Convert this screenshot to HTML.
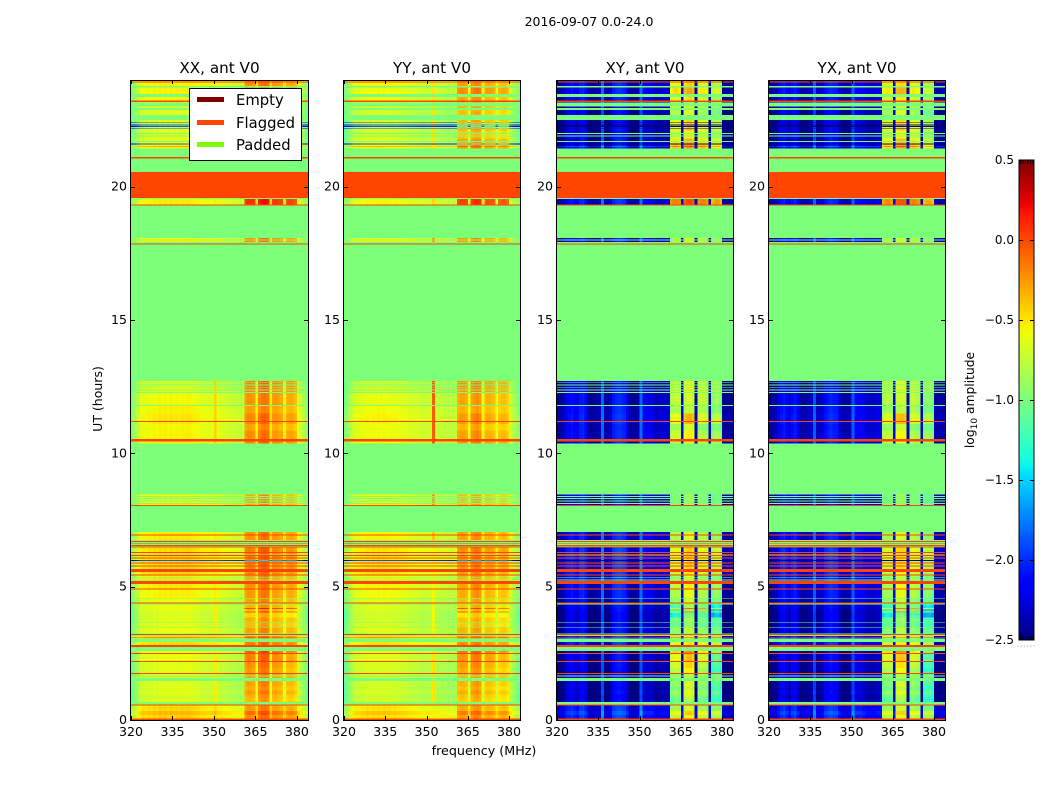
<!DOCTYPE html>
<html lang="en">
<head>
<meta charset="utf-8">
<title>2016-09-07 0.0-24.0</title>
<style>
html,body{margin:0;padding:0;background:#fff;width:1050px;height:800px;overflow:hidden}
svg{display:block}
text{font-family:"DejaVu Sans","Liberation Sans",sans-serif;fill:#000}
</style>
</head>
<body>
<svg id="chart" xmlns="http://www.w3.org/2000/svg" width="1050" height="800" viewBox="0 0 1050 800">
  <rect width="1050" height="800" fill="#fff"/>
  <text x="589" y="26" font-size="12.5" text-anchor="middle">2016-09-07 0.0-24.0</text>
  <text transform="translate(102,399) rotate(-90)" font-size="12.5" text-anchor="middle">UT (hours)</text>
  <text x="484" y="755" font-size="12.7" text-anchor="middle">frequency (MHz)</text>
  <g id="panels"></g>
  <g id="legend">
    <rect x="189.5" y="88.5" width="112" height="72" fill="#fff" stroke="#000" stroke-width="1"/>
    <rect x="197" y="97" width="27" height="5" fill="#800000"/>
    <text x="236" y="105" font-size="14.8">Empty</text>
    <rect x="197" y="120" width="27" height="5" fill="#ff4500"/>
    <text x="236" y="128" font-size="14.8">Flagged</text>
    <rect x="197" y="142" width="27" height="5" fill="#7cfc00"/>
    <text x="236" y="150" font-size="14.8">Padded</text>
  </g>
  <g id="colorbar"></g>
  <text transform="translate(974,400) rotate(-90)" font-size="12.3" text-anchor="middle">log<tspan font-size="9" dy="3">10</tspan><tspan dy="-3"> amplitude</tspan></text>
</svg>
<script>
// ---- data ----
const panelTitles = ['XX, ant V0', 'YY, ant V0', 'XY, ant V0', 'YX, ant V0'];
const xTicks = [320, 335, 350, 365, 380];
const yTicks = [0, 5, 10, 15, 20];
const colorTicks = [0.5, 0.0, -0.5, -1.0, -1.5, -2.0, -2.5];
const channelStart = 320;

// log10 amplitude per 1 MHz channel, 320..383
const profileXX = [-0.95,-0.85,-0.72,-0.62,-0.58,-0.6,-0.56,-0.58,-0.54,-0.57,-0.52,-0.55,-0.53,-0.56,-0.52,-0.55,-0.53,-0.55,-0.52,-0.54,-0.52,-0.53,-0.55,-0.56,-0.58,-0.6,-0.6,-0.62,-0.62,-0.6,-0.55,-0.62,-0.64,-0.66,-0.66,-0.68,-0.7,-0.7,-0.72,-0.73,-0.72,-0.34,-0.3,-0.31,-0.34,-0.52,-0.26,-0.2,-0.18,-0.22,-0.5,-0.34,-0.32,-0.36,-0.4,-0.54,-0.4,-0.37,-0.38,-0.44,-0.62,-0.7,-0.8,-0.92];
const profileYY = [-0.98,-0.88,-0.76,-0.66,-0.62,-0.63,-0.6,-0.6,-0.57,-0.6,-0.57,-0.58,-0.56,-0.58,-0.56,-0.58,-0.58,-0.6,-0.58,-0.6,-0.6,-0.62,-0.62,-0.64,-0.65,-0.66,-0.66,-0.68,-0.7,-0.7,-0.68,-0.7,-0.7,-0.72,-0.72,-0.72,-0.74,-0.74,-0.76,-0.76,-0.74,-0.4,-0.36,-0.36,-0.4,-0.58,-0.34,-0.3,-0.28,-0.32,-0.56,-0.42,-0.4,-0.42,-0.46,-0.6,-0.48,-0.44,-0.44,-0.5,-0.68,-0.76,-0.86,-0.95];
const profileXY = [-2.4,-2.4,-2.35,-2.15,-2.12,-2.08,-2.15,-2.2,-2.05,-2.02,-2.15,-2.42,-2.42,-2.42,-2.38,-2.35,-1.8,-2.38,-2.38,-2.3,-2.05,-2.0,-1.97,-2.0,-2.03,-2.15,-2.42,-2.42,-2.42,-2.35,-1.8,-2.2,-2.2,-2.2,-2.2,-2.3,-2.32,-2.28,-2.28,-2.28,-2.28,-1.05,-0.95,-0.95,-1.0,-2.2,-0.85,-0.78,-0.78,-0.85,-2.35,-1.0,-0.95,-0.95,-1.05,-2.35,-1.15,-1.05,-1.05,-1.15,-2.42,-2.42,-2.42,-2.42];
const profileYX = [-2.4,-2.4,-2.35,-2.2,-2.1,-2.05,-2.15,-2.25,-2.1,-2.05,-2.2,-2.38,-2.38,-2.38,-2.32,-2.3,-1.85,-2.32,-2.32,-2.28,-2.1,-2.05,-2.0,-2.05,-2.05,-2.2,-2.38,-2.38,-2.38,-2.32,-1.85,-2.15,-2.15,-2.15,-2.2,-2.28,-2.28,-2.28,-2.28,-2.22,-2.22,-1.1,-1.0,-1.0,-1.05,-2.2,-0.85,-0.82,-0.82,-0.85,-2.32,-1.0,-0.95,-1.0,-1.05,-2.32,-1.15,-1.1,-1.1,-1.2,-2.38,-2.38,-2.38,-2.38];
// multiplier on the signal-block gain for each polarisation
const blockResponse = [1, 1, 2, 2];
// how strongly the block patches below show in each polarisation
const patchResponse = [0.15, 0.15, 1, 1];

// integration rows: [start hour, end hour, background gain, signal-block gain]
const activeRows = [
[0,.18,.1,.1],[.18,.34,.18,.2],[.34,.54,.08,.05],
[.68,.8,-.1,-.05],[.8,.95,-.14,-.02],[.95,1.1,-.08,.05],[1.1,1.25,-.12,-.02],[1.25,1.46,-.1,.03],[1.46,1.73,-.08,.05],
[1.73,1.95,-.1,.03],[1.95,2.18,-.08,.08],[2.18,2.48,-.06,.12],[2.48,2.59,-.04,.2],
[2.59,2.92,.08,.15],[3.05,3.15,.1,.12],[3.25,3.46,-.05,.03],[3.46,3.65,-.08,-.05],
[3.65,3.85,-.1,-.02],[3.85,4.03,-.12,-.1],[4.03,4.07,-.08,.3],[4.07,4.16,-.08,-.05],[4.16,4.2,-.08,.35],[4.2,4.37,-.06,0],
[4.37,4.55,-.04,0],[4.55,4.89,0,.05],[4.89,5.1,.03,.08],[5.1,5.42,.04,.03],[5.42,5.55,.08,.1],[5.55,5.87,.08,.12],[5.87,6.05,.1,.12],[6.05,6.5,.08,.14],
[5.97,6,-1.3,-1.3],
[6.75,7.05,.02,.08],
[8.07,8.45,-.02,0],
[10.36,10.45,0,.12],[10.45,10.85,0,.08],[10.85,11.1,-.02,0],[11.1,11.5,.03,.08],[11.5,11.8,0,.02],[11.8,12.3,-.03,.06],[12.3,12.72,-.08,.12],
[17.93,18.08,-.02,.1],
[19.33,19.57,.02,.4],
[21.43,21.5,0,.05],[21.5,21.52,.45,.3],[21.52,21.58,0,.05],[21.58,21.62,-1.3,-1],[21.62,21.8,-.04,0],[21.8,22.1,-.1,-.1],[22.1,22.18,-.06,-.02],
[22.18,22.2,-1.3,-1],[22.2,22.24,-.1,-.05],[22.24,22.27,-1.3,-1],[22.27,22.3,-.1,-.05],[22.3,22.33,-1.3,-1],[22.33,22.4,-.1,-.05],[22.4,22.43,-1.3,-1],[22.43,22.5,-.1,-.05],
[22.68,22.88,-.1,-.05],[22.88,23,-.06,0],[23.15,23.18,-.02,0],[23.18,23.37,-.02,.03],[23.47,23.71,0,.12],[23.71,23.9,0,.05],[23.9,24,.1,.1]
];

// gain on one signal block over a time range: [start hour, end hour, block index, gain]
const blockPatches = [
[.68,1.46,1,.1],[.68,1.46,3,-.1],
[1.6,2.59,0,.12],[1.6,2.59,1,.18],[1.6,2.59,2,.05],[1.6,2.59,3,-.25],
[3.85,4.37,0,-.2],[3.85,4.37,3,-.3],
[4.4,6.5,0,.05],[4.4,6.5,1,.1],[4.4,6.5,2,.05],[4.4,6.5,3,.05],
[10.45,11,0,.1],[10.45,11,1,.1],[10.45,11,3,.05],
[11.2,11.6,0,.2],[11.2,11.6,1,.3],[11.2,11.6,2,.15],[11.2,11.6,3,.15],
[11.6,12.3,0,.1],[11.6,12.3,2,.1],[11.6,12.3,3,.05],
[21.43,22.5,0,.45],[21.43,22.5,1,.45],[21.43,22.5,2,.45],[21.43,22.5,3,.4],
[22.68,24,0,.25],[22.68,24,1,.25],[22.68,24,2,.2],[22.68,24,3,.15]
];

// narrow interference columns: [panel index, MHz, start hour, end hour, amplitude]
const rfiColumns = [
[1,352,10.36,12.72,-0.06],[1,352,8.07,8.45,-0.25],[1,352,17.93,18.08,-0.25],[1,352,6.75,7.05,-0.4],
[1,352,21.43,24,-0.5],[1,352,3,6.5,-0.56],[1,352,.68,2.6,-0.5],[1,352,19.33,19.57,-0.45],
[0,350,10.36,12.72,-0.44],[0,350,.68,6.5,-0.52]
];

// flagged time ranges in hours
const flaggedBands = [
[0,.06],[.54,.58],[1.73,1.77],[2.18,2.22],[2.48,2.52],[2.74,2.81],[3.07,3.1],[3.19,3.23],[4.37,4.41],[4.89,4.93],[5.1,5.21],[5.42,5.46],[5.55,5.66],[5.76,5.8],[5.87,5.91],[6.06,6.09],[6.15,6.18],[6.27,6.3],[6.47,6.5],[6.53,6.56],[6.61,6.64],[6.68,6.71],[6.91,6.95],[8.03,8.07],[10.45,10.53],[11.18,11.22],[17.83,17.87],[19.3,19.33],[19.57,20.55],[21.03,21.06],[21.08,21.11],[23.18,23.23],[23.9,23.95]
];
// padded (no data, amplitude -1.0) time ranges in hours
const paddedBands = [
[.58,.68],[1.46,1.58],[1.63,1.67],[2.59,2.73],[2.92,3.05],[3.15,3.25],[3.46,3.49],[3.65,3.68],[4.33,4.36],[4.55,4.58],[5.24,5.27],[5.34,5.37],[6.05,6.08],[6.2,6.23],[6.5,6.75],[8.1,8.14],[8.19,8.23],[8.28,8.32],[8.37,8.4],[11.78,11.81],[12.27,12.3],[12.36,12.39],[12.46,12.49],[12.55,12.58],[12.65,12.68],[17.98,18.02],[19.54,19.57],[21.68,21.71],[21.88,21.91],[21.98,22.01],[22.5,22.68],[22.88,22.95],[23,23.15],[23.37,23.47],[23.71,23.77]
];

// ---- geometry & helpers ----
const profiles = [profileXX, profileYY, profileXY, profileYX];
const panelLeft = [131, 344, 557, 769];
const panelRight = [308, 520, 733, 945];
const plotTop = 80, plotBottom = 720;
const hourMax = 24, mhzMax = 384;
const paddedColor = '#7cff79', flaggedColor = '#ff4500';
const SVGNS = 'http://www.w3.org/2000/svg';

function yScale(h) { return plotBottom - (h / hourMax) * (plotBottom - plotTop); }
function xScale(p, mhz) { return panelLeft[p] + (mhz - channelStart) / (mhzMax - channelStart) * (panelRight[p] - panelLeft[p]); }
function cScale(v) { return 160 + (0.5 - v) / 3 * 480; }
function ramp(t, a, b) { return Math.max(0, Math.min(1, (t - a) / (b - a))); }
function jet(v) {
  const t = Math.max(0, Math.min(1, (v + 2.5) / 3));
  const r = t < 0.89 ? ramp(t, 0.35, 0.66) : 1 - 0.5 * ramp(t, 0.89, 1);
  const g = t < 0.5 ? ramp(t, 0.125, 0.375) : 1 - ramp(t, 0.64, 0.91);
  const b = t < 0.34 ? 0.5 + 0.5 * ramp(t, 0, 0.11) : 1 - ramp(t, 0.34, 0.65);
  return 'rgb(' + Math.round(r * 255) + ',' + Math.round(g * 255) + ',' + Math.round(b * 255) + ')';
}
function make(tag, parent, props) {
  const el = document.createElementNS(SVGNS, tag);
  for (const k in props) el.setAttribute(k, props[k]);
  parent.appendChild(el);
  return el;
}
// signal blocks occupy 361-364, 366-369, 371-374, 376-379 MHz; -1 outside them
function blockIndex(mhz) {
  if (mhz < 361 || mhz >= 380) return -1;
  const off = mhz - 361;
  return off % 5 === 4 ? -1 : Math.floor(off / 5);
}
function cellValue(p, mhz, row) {
  const mid = (row[0] + row[1]) / 2;
  const base = profiles[p][mhz - channelStart];
  const blk = blockIndex(mhz);
  let v;
  if (blk < 0) {
    v = base + row[2];
  } else {
    v = base + row[3] * blockResponse[p];
    blockPatches.forEach(function (q) {
      if (q[2] === blk && mid >= q[0] && mid < q[1]) v += q[3] * patchResponse[p];
    });
  }
  if (row[2] > -1) {
    rfiColumns.forEach(function (q) {
      if (q[0] === p && q[1] === mhz && mid >= q[2] && mid < q[3]) v = q[4];
    });
  }
  return v;
}

// ---- panels ----
const panelsRoot = document.getElementById('panels');
panelTitles.forEach(function (title, p) {
  const g = make('g', panelsRoot, {});
  
  
  const L = panelLeft[p], R = panelRight[p];

  const bg = make('rect', g, { x: L, y: plotTop, width: R - L, height: plotBottom - plotTop, fill: paddedColor });
  
  

  activeRows.forEach(function (row) {
    const yA = yScale(row[1]), yB = yScale(row[0]);
    profiles[p].forEach(function (base, c) {
      const mhz = channelStart + c;
      const x0 = xScale(p, mhz), x1 = xScale(p, mhz + 1);
      const cell = make('rect', g, { x: x0, y: yA, width: x1 - x0, height: yB - yA, fill: jet(cellValue(p, mhz, row)), 'shape-rendering': 'crispEdges' });
      
      
    });
  });

  paddedBands.forEach(function (b) {
    const r = make('rect', g, { x: L, y: yScale(b[1]), width: R - L, height: yScale(b[0]) - yScale(b[1]), fill: paddedColor, 'shape-rendering': 'crispEdges' });
    
    
  });
  flaggedBands.forEach(function (b) {
    const r = make('rect', g, { x: L, y: yScale(b[1]), width: R - L, height: yScale(b[0]) - yScale(b[1]), fill: flaggedColor, 'shape-rendering': 'crispEdges' });
    
    
  });

  const frame = make('rect', g, { x: L - 0.5, y: plotTop + 0.5, width: R - L + 1, height: plotBottom - plotTop, fill: 'none', stroke: '#000', 'stroke-width': 1 });
  
  

  xTicks.forEach(function (t) {
    const x = Math.round(xScale(p, t)) + 0.5;
    const bot = make('line', g, { x1: x, x2: x, y1: plotBottom, y2: plotBottom - 4, stroke: '#000' });
    
    
    const top = make('line', g, { x1: x, x2: x, y1: plotTop, y2: plotTop + 4, stroke: '#000' });
    
    
    const lab = make('text', g, { x: xScale(p, t), y: 736, 'font-size': 12.6, 'text-anchor': 'middle' });
    lab.textContent = String(t);
    
    
  });
  yTicks.forEach(function (t) {
    const y = Math.round(yScale(t)) + 0.5;
    const lft = make('line', g, { x1: L, x2: L + 4, y1: y, y2: y, stroke: '#000' });
    
    
    const rgt = make('line', g, { x1: R, x2: R - 4, y1: y, y2: y, stroke: '#000' });
    
    
    const lab = make('text', g, { x: L - 4, y: yScale(t) + 4, 'font-size': 12.6, 'text-anchor': 'end' });
    lab.textContent = String(t);
    
    
  });

  const ttl = make('text', g, { x: (L + R) / 2, y: 73, 'font-size': 15.2, 'text-anchor': 'middle' });
  ttl.textContent = title;
  
  
});

// ---- colorbar ----
const cb = document.getElementById('colorbar');
const cbLeft = 1019, cbRight = 1034;
const defs = make('defs', cb, {});
const grad = make('linearGradient', defs, { id: 'jetGrad', x1: 0, y1: 0, x2: 0, y2: 1 });
for (let i = 0; i <= 60; i++) {
  make('stop', grad, { offset: (i / 60), 'stop-color': jet(0.5 - 3 * i / 60) });
}
const cbRect = make('rect', cb, { x: cbLeft, y: cScale(0.5), width: cbRight - cbLeft, height: cScale(-2.5) - cScale(0.5), fill: 'url(#jetGrad)', stroke: '#000', 'stroke-width': 1 });


colorTicks.forEach(function (v) {
  const y = Math.round(cScale(v)) + 0.5;
  if (v < 0.5 && v > -2.5) {
    const a = make('line', cb, { x1: cbLeft, x2: cbLeft + 4, y1: y, y2: y, stroke: '#000' });
    
    
    const b = make('line', cb, { x1: cbRight, x2: cbRight - 4, y1: y, y2: y, stroke: '#000' });
    
    
  }
  const lab = make('text', cb, { x: 1014, y: cScale(v) + 4, 'font-size': 12, 'text-anchor': 'end' });
  lab.textContent = v.toFixed(1).replace('-', '\u2212');
  
  
});
for (let i = 0; i < 6; i++) {
  const x = cbLeft + 1.5 + i * 2.5;
  const t1 = make('line', cb, { x1: x, x2: x, y1: 160, y2: 164, stroke: '#000', 'stroke-width': 0.8 });
  
  
  const t2 = make('line', cb, { x1: x, x2: x, y1: 640, y2: 636, stroke: '#000', 'stroke-width': 0.8 });
  
  
  const d = make('rect', cb, { x: 1017.5 + i * 3.2, y: 645.5, width: 1, height: 1, fill: '#999' });
  
  
}
// legend stays above the first panel
document.getElementById('chart').insertBefore(document.getElementById('legend'), cb);
</script>
</body>
</html>
